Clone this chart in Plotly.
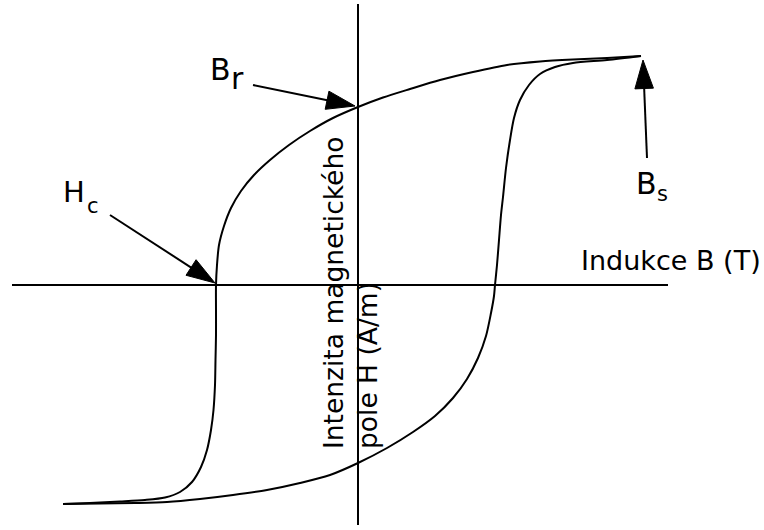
import plotly.graph_objects as go

# Hysteresis loop (H = field intensity, B = induction), arbitrary units, origin at axes crossing
upper_H = [283, 249, 215, 182, 149, 115, 82, 52, 25, 0, -25, -48, -69, -88, -104, -117, -127,
           -134, -139, -141, -142, -142, -142, -142.5, -143, -144.5, -147, -151, -157, -166,
           -178, -193, -213, -238, -268, -295]
upper_B = [229, 227, 225.5, 223.5, 220, 213, 205, 196, 187.5, 178, 167, 154, 140, 125, 110, 94,
           77, 59, 40, 20, 0, -25, -50, -75, -100, -125, -145, -165, -182, -197,
           -207, -212.5, -215, -216.5, -218, -219]
lower_H = [-295, -258, -223, -191, -158, -125, -91, -58, -28, 0, 29, 55, 77, 95, 109, 120, 128,
           133, 136, 137, 139, 141, 143, 145, 148, 152, 156, 162, 171, 182, 197, 215, 249, 283]
lower_B = [-219, -218.5, -218, -217, -214, -210, -205, -198, -190, -178, -163, -147, -131, -113,
           -94, -73, -51, -28, -11, 0, 20, 45, 70, 88, 117, 145, 167, 185, 200, 211, 218, 222,
           225, 229]

axis_H_extent = [-346, 310]
axis_B_extent = [281, -240]

# arrows: (tail, tip)
arrow_Br = ((-105, 200), (-3, 179))
arrow_Hc = ((-248, 70), (-143, 2))
arrow_Bs = ((289, 127), (285, 225))

FONT = "DejaVu Sans"

fig = go.Figure()
# axes lines
fig.add_trace(go.Scatter(x=axis_H_extent, y=[0, 0], mode="lines",
                         line=dict(color="black", width=2), hoverinfo="skip"))
fig.add_trace(go.Scatter(x=[0, 0], y=axis_B_extent, mode="lines",
                         line=dict(color="black", width=2), hoverinfo="skip"))
# loop
for hx, by in ((upper_H, upper_B), (lower_H, lower_B)):
    fig.add_trace(go.Scatter(x=hx, y=by, mode="lines",
                             line=dict(color="black", width=2, shape="spline", smoothing=0.8),
                             hoverinfo="skip"))
# arrows
for tail, tip in (arrow_Br, arrow_Hc, arrow_Bs):
    fig.add_trace(go.Scatter(x=[tail[0], tip[0]], y=[tail[1], tip[1]], mode="lines+markers",
                             line=dict(color="black", width=2),
                             marker=dict(symbol="arrow", size=[0, 30], angleref="previous",
                                         color="#000000", opacity=1,
                                         line=dict(width=1, color="#000000")),
                             opacity=1, hoverinfo="skip"))

def label(x, y, text, size, **kw):
    d = dict(x=x, y=y, xref="x", yref="y", text=text, showarrow=False,
             font=dict(family=FONT, size=size, color="black"),
             xanchor="center", yanchor="middle")
    d.update(kw)
    return d

annotations = [
    label(-138, 216, "B", 30),
    label(-120.5, 207, "r", 30),
    label(-284, 93, "H", 29),
    label(-265.5, 79, "c", 21),
    label(288.5, 101.5, "B", 30),
    label(304, 91, "s", 21),
    label(221, 25, "Indukce B (T)", 27, xanchor="left"),
    label(-8, -8, "Intenzita magnetického<br>pole H (A/m)", 26.5, textangle=-90, align="left"),
]

fig.update_layout(
    width=764, height=530, margin=dict(l=0, r=0, t=0, b=0),
    paper_bgcolor="white", plot_bgcolor="white", showlegend=False,
    xaxis=dict(range=[-358, 406], visible=False, fixedrange=True),
    yaxis=dict(range=[-245, 285], visible=False, fixedrange=True),
    annotations=annotations,
)

fig.write_html("out.html", config={"displayModeBar": False},
               post_script="document.body.style.margin='0';document.body.style.overflow='hidden';")
